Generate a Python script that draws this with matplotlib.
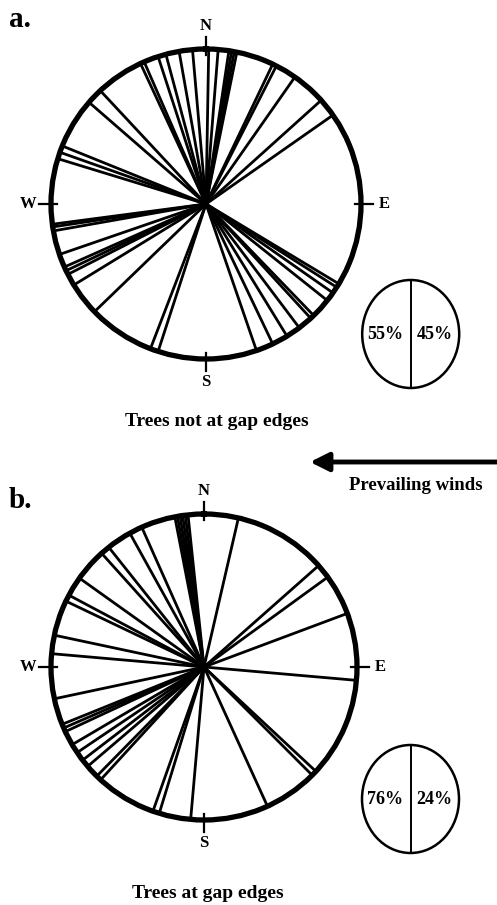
import matplotlib.pyplot as plt
import numpy as np
from matplotlib.patches import Ellipse

# fall directions (compass bearing, degrees clockwise from N)
bearings_a = [1, 4.5, 8.5, 9.5, 10.5, 11.5, 25.5, 27, 35, 48, 55,
              121, 122.5, 125, 128.5, 136, 137.5, 143, 148.5, 154.5, 161,
              198, 201, 226, 238.5, 243, 244.5, 246, 251, 260, 261.5, 262.5,
              287, 289.5, 292, 311, 317, 335, 336.5, 342, 345, 350, 355]
bearings_b = [13, 48.5, 54, 69.5, 95, 133, 135, 155.5,
              185, 197, 199.5, 222.5, 224.5, 229.5, 232.5, 236, 239.5,
              245, 246.5, 248, 258, 275, 282, 295.5, 298, 305.5,
              318, 321.5, 331, 336, 349, 350, 351, 352, 353, 354]
pct_west = [55, 76]
pct_east = [45, 24]
panel_labels = ['a.', 'b.']
captions = ['Trees not at gap edges', 'Trees at gap edges']
compass = ['N', 'E', 'S', 'W']

plt.rcParams['font.family'] = 'Liberation Serif'
plt.rcParams['font.weight'] = 'bold'

fig = plt.figure(figsize=(4.97, 9.05), dpi=100)

# overlay in pixel coordinates for text, arrow and small pies
ov = fig.add_axes([0, 0, 1, 1])
ov.set_xlim(0, 497)
ov.set_ylim(905, 0)
ov.axis('off')

rose_boxes = [[51 / 497, 546 / 905, 310 / 497, 310 / 905],
              [51 / 497, 85 / 905, 306 / 497, 306 / 905]]
pie_centers = [(410.7, 334), (410.5, 799)]

for i, bearings in enumerate([bearings_a, bearings_b]):
    ax = fig.add_axes(rose_boxes[i], projection='polar')
    ax.set_theta_zero_location('N')
    ax.set_theta_direction(-1)
    ax.set_ylim(0, 1)
    ax.set_xticks([])
    ax.set_yticks([])
    ax.grid(False)
    ax.spines['polar'].set_linewidth(3.8)
    ax.vlines(np.deg2rad(bearings), 0, 1, color='black', lw=2.0)
    for k, lab in enumerate(compass):
        th = np.deg2rad(90 * k)
        ax.plot([th, th], [0.96, 1.08], color='black', lw=1.6, clip_on=False)
        ax.text(th, 1.15, lab, ha='center', va='center', fontsize=12)

    cx, cy = pie_centers[i]
    ov.add_patch(Ellipse((cx, cy), 97, 108, fill=False, lw=1.8, ec='black'))
    ov.plot([cx, cx], [cy - 54, cy + 54], color='black', lw=1.4)
    ov.text(cx - 25, cy, f'{pct_west[i]}%', ha='center', va='center', fontsize=13)
    ov.text(cx + 24, cy, f'{pct_east[i]}%', ha='center', va='center', fontsize=13)

ov.text(9, 27, panel_labels[0], fontsize=21, ha='left', va='baseline')
ov.text(9, 508, panel_labels[1], fontsize=21, ha='left', va='baseline')
ov.text(217, 426, captions[0], fontsize=14, ha='center', va='baseline')
ov.text(208, 898, captions[1], fontsize=14, ha='center', va='baseline')

ov.annotate('', xy=(310, 462), xytext=(497, 462),
            arrowprops=dict(arrowstyle='-|>', lw=3.5, color='black',
                            mutation_scale=28, shrinkA=0, shrinkB=0))
ov.text(416, 490, 'Prevailing winds', fontsize=13.5, ha='center', va='baseline')

fig.savefig('out.png', dpi=100, facecolor='white')
